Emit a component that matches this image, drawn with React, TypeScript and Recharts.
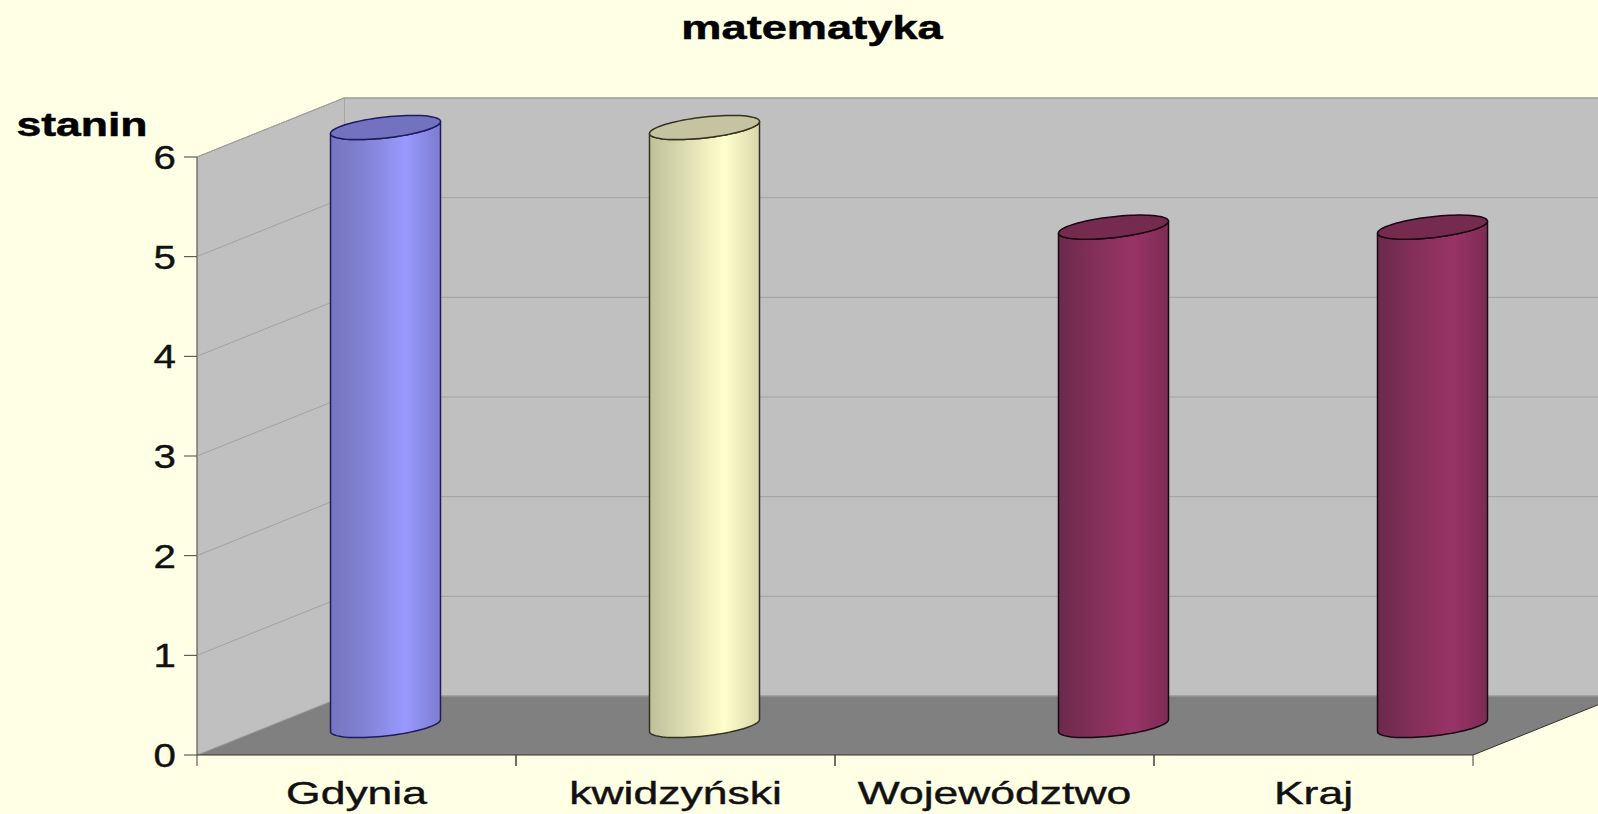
import { BarChart, Bar, XAxis, YAxis, CartesianGrid, usePlotArea } from 'recharts'

const categories = ['Gdynia', 'kwidzyński', 'Województwo', 'Kraj']
const firstSeries = [6, 6, null, null]
const secondSeries = [null, null, 5, 5]
const yTicks = [0, 1, 2, 3, 4, 5, 6]

const data = categories.map((name, i) => ({ name, first: firstSeries[i], second: secondSeries[i] }))

const W = 1598
const H = 814
const DX = 147 // depth of the fake 3d box
const DY = -59
const FONT = '"Liberation Sans", Arial, sans-serif'
const STRETCH = 1.39 // the source image is wider than it should be

const palette: Record<string, { id: string; stops: string[]; top: string; edge: string }> = {
  Gdynia: { id: 'cylBlue', stops: ['#7474bf', '#8484d8', '#9999ff', '#7c7cd0'], top: '#7272c0', edge: '#1c1c5c' },
  'kwidzyński': { id: 'cylYellow', stops: ['#bfbf99', '#dfdfb4', '#ffffcc', '#d8d8ac'], top: '#c4c4a0', edge: '#33331f' },
  'Województwo': { id: 'cylMaroon', stops: ['#6b2a4c', '#85305a', '#993366', '#7c2c54'], top: '#752b50', edge: '#1a0510' },
  Kraj: { id: 'cylMaroon', stops: ['#6b2a4c', '#85305a', '#993366', '#7c2c54'], top: '#752b50', edge: '#1a0510' },
}

function Box() {
  const p = usePlotArea()
  if (!p) return null
  const { x, y, width, height } = p
  const bottom = y + height
  const right = x + width
  return (
    <g>
      <defs>
        {Object.entries(palette).map(([name, c]) => (
          <linearGradient key={name} id={c.id} x1="0" y1="0" x2="1" y2="0">
            <stop offset="0%" stopColor={c.stops[0]} />
            <stop offset="35%" stopColor={c.stops[1]} />
            <stop offset="68%" stopColor={c.stops[2]} />
            <stop offset="100%" stopColor={c.stops[3]} />
          </linearGradient>
        ))}
      </defs>
      <rect x={x + DX} y={y + DY} width={width} height={height} fill="#c0c0c0" stroke="#8c8c84" strokeWidth={1} />
      <polygon
        points={`${x},${y} ${x + DX},${y + DY} ${x + DX},${bottom + DY} ${x},${bottom}`}
        fill="#c0c0c0"
      />
      <polygon
        points={`${x},${bottom} ${right},${bottom} ${right + DX},${bottom + DY} ${x + DX},${bottom + DY}`}
        fill="#808080"
      />
      <line x1={x} y1={y} x2={x + DX} y2={y + DY} stroke="#8c8c84" />
      <line x1={x} y1={y} x2={x} y2={bottom} stroke="#404040" />
      <line x1={right} y1={bottom} x2={right + DX} y2={bottom + DY} stroke="#303030" />
      <text x={0} y={0} textAnchor="middle" transform="translate(812 38.5) scale(1.33 1)"
        fontFamily={FONT} fontWeight="bold" fontSize={34} fill="#000" stroke="#000" strokeWidth={0.5}>matematyka</text>
      <text x={0} y={0} textAnchor="middle" transform="translate(82 136) scale(1.35 1)"
        fontFamily={FONT} fontWeight="bold" fontSize={33} fill="#000" stroke="#000" strokeWidth={0.5}>stanin</text>
    </g>
  )
}

function GridLine(props: any) {
  const { x1, x2, y1 } = props
  if (y1 == null) return null
  return (
    <g stroke="#a2a2a2" strokeWidth={1}>
      <line x1={x1} y1={y1} x2={x1 + DX} y2={y1 + DY} />
      <line x1={x1 + DX} y1={y1 + DY} x2={x2 + DX} y2={y1 + DY} />
    </g>
  )
}

function Cylinder(props: any) {
  const { x, y, width, height, payload } = props
  if (!height || height <= 0 || !payload) return null
  const c = palette[payload.name]
  const cx = x + width / 2 + DX / 2
  const a = width / 2
  const tilt = 6
  const b = 10.5
  const topY = y + DY / 2
  const baseY = y + height + DY / 2
  // half ellipse from right point to left point, sheared so it leans up to the right
  const arc = (cy: number, sign: number) => {
    const pts: string[] = []
    for (let i = 0; i <= 40; i++) {
      const t = (Math.PI * i) / 40
      pts.push(`${cx + a * Math.cos(t)},${cy - tilt * Math.cos(t) + sign * b * Math.sin(t)}`)
    }
    return pts
  }
  const base = arc(baseY, 1)
  const topBack = arc(topY, -1)
  const topFront = arc(topY, 1)
  const body = `M${cx + a},${topY - tilt} L${base.join(' L')} L${cx - a},${topY + tilt} L${[...topFront].reverse().join(' L')}Z`
  const lid = `M${topBack.join(' L')} L${[...topFront].reverse().join(' L')}Z`
  return (
    <g strokeLinejoin="round">
      <path d={body} fill={`url(#${c.id})`} stroke={c.edge} strokeWidth={1.5} />
      <path d={lid} fill={c.top} stroke={c.edge} strokeWidth={1.5} />
    </g>
  )
}

function CategoryTick(props: any) {
  const { x, y, payload } = props
  const half = payload.offset ?? 159.5
  return (
    <g>
      <line x1={x - half} y1={y - 8} x2={x - half} y2={y + 3} stroke="#404040" />
      <line x1={x + half} y1={y - 8} x2={x + half} y2={y + 3} stroke="#404040" />
      <text x={0} y={0} textAnchor="middle" transform={`translate(${x} ${y + 41}) scale(${STRETCH} 1)`}
        fontFamily={FONT} fontSize={32} fill="#111" stroke="#111" strokeWidth={0.4}>{payload.value}</text>
    </g>
  )
}

function ValueTick(props: any) {
  const { x, y, payload } = props
  return (
    <text x={0} y={0} textAnchor="end" transform={`translate(${x - 6} ${y + 12}) scale(1.22 1)`}
      fontFamily={FONT} fontSize={33} fill="#111" stroke="#111" strokeWidth={0.4}>{payload.value}</text>
  )
}

export default function App() {
  return (
    <div style={{ position: 'absolute', left: 0, top: 0, width: W, height: H, background: '#ffffe5', overflow: 'hidden' }}>
      <BarChart
        width={W}
        height={H}
        data={data}
        margin={{ top: 157, right: 125, bottom: 0, left: 0 }}
        barSize={110}
        barGap={-20}
      >
        <Box />
        <CartesianGrid zIndex={1} vertical={false} horizontal={(p: any) => <GridLine key={p.key ?? p.y1} {...p} />} />
        <XAxis
          dataKey="name"
          axisLine={{ stroke: '#303030' }}
          tickLine={false}
          tick={CategoryTick}
          interval={0}
          height={59}
        />
        <YAxis
          domain={[0, 6]}
          ticks={yTicks}
          axisLine={false}
          tickLine={{ stroke: '#404040' }}
          tickSize={13}
          tick={ValueTick}
          width={197}
          interval={0}
        />
        <Bar dataKey="first" shape={Cylinder} isAnimationActive={false} />
        <Bar dataKey="second" shape={Cylinder} isAnimationActive={false} />
      </BarChart>
    </div>
  )
}
